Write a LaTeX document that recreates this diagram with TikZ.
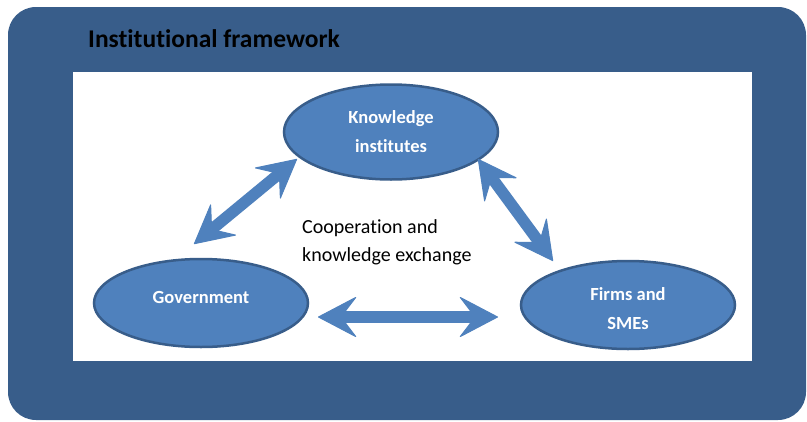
\documentclass[tikz,border=0pt]{standalone}
\usepackage{fontspec}
\setmainfont{Carlito}[Ligatures=NoCommon]
\usetikzlibrary{shapes.geometric,arrows.meta}
\definecolor{darkblue}{HTML}{385D8A}
\definecolor{midblue}{HTML}{4F81BD}
\begin{document}
\begin{tikzpicture}[x=1pt,y=-1pt,
  ellnode/.style={ellipse, draw=darkblue, line width=2.5pt, fill=midblue, text=white,
    font=\bfseries\fontsize{18.5}{29}\selectfont, align=center, inner sep=0pt},
  headtip/.tip={Stealth[length=40pt,width=42pt,inset=16pt,round,line width=1pt]},
  dblarrow/.style={draw=midblue, line width=11.5pt, headtip-headtip}
]
\useasboundingbox (0,0) rectangle (807,421);
\fill[darkblue, rounded corners=28pt] (8,7) rectangle (806,420);
\fill[white] (73,72) rectangle (752,361);

\node[anchor=base west, inner sep=0pt, font=\bfseries\fontsize{25.5}{30}\selectfont] (title) at (88,47) {Institutional framework};

\node[ellnode, minimum width=214pt, minimum height=95pt] (ki) at (391,132) {Knowledge\\institutes};
\node[ellnode, minimum width=214pt, minimum height=88pt] (gov) at (201,303) {\raisebox{0pt}[0pt][0pt]{Government}};
\node[ellnode, minimum width=214pt, minimum height=88pt] (firms) at (628,305) {\raisebox{-24.5pt}[0pt][0pt]{\shortstack{Firms and\\[14pt]SMEs}}};

\node[anchor=base west, inner sep=0pt, align=left, font=\fontsize{20}{28}\selectfont] (coop) at (302,261) {Cooperation and\\knowledge exchange};

\coordinate (a1s) at (297,159);
\coordinate (a1e) at (194,244);
\coordinate (a2s) at (478,159);
\coordinate (a2e) at (553,261);
\coordinate (a3s) at (318,317);
\coordinate (a3e) at (498,317);
\draw[dblarrow] (a1s) -- (a1e);
\draw[dblarrow] (a2s) -- (a2e);
\draw[dblarrow] (a3s) -- (a3e);
\end{tikzpicture}
\end{document}
